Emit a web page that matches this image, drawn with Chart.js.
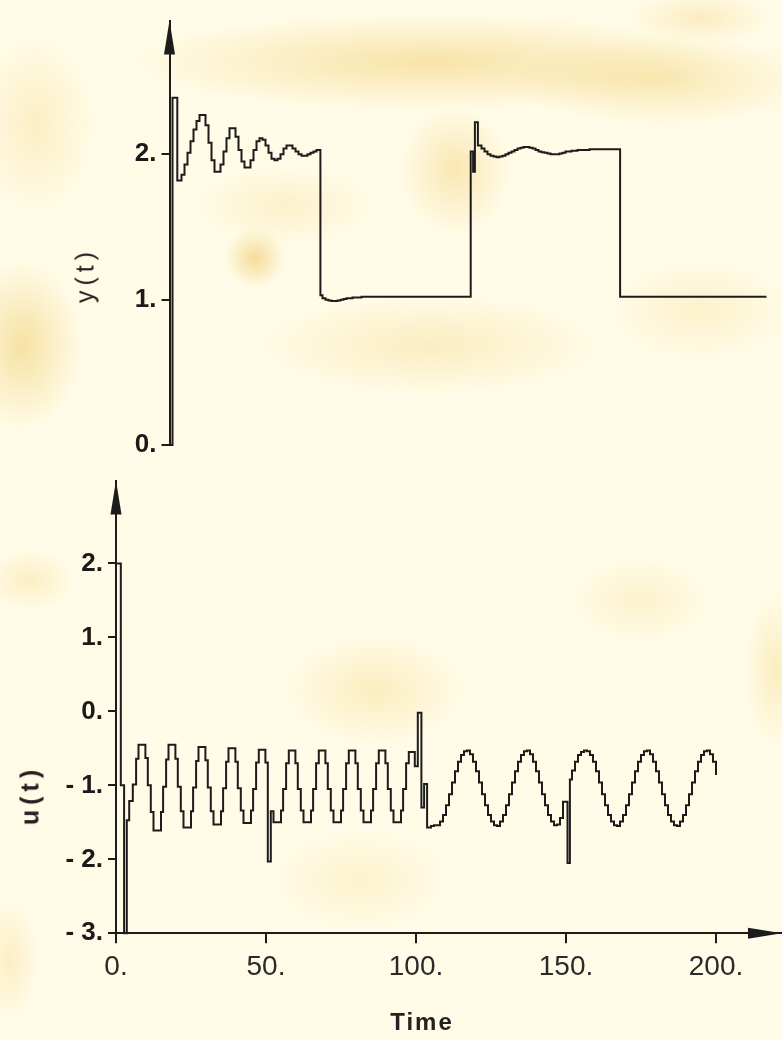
<!DOCTYPE html>
<html><head><meta charset="utf-8">
<script src="https://cdn.jsdelivr.net/npm/chart.js@4.4.1/dist/chart.umd.min.js"></script>
<style>
html,body{margin:0;padding:0;}
body{width:782px;height:1040px;overflow:hidden;position:relative;background:#fffbe6;}
#paper{position:absolute;left:0;top:0;width:782px;height:1040px;
background:
 radial-gradient(ellipse 300px 48px at 430px 62px, rgba(242,204,106,0.50), rgba(242,204,106,0) 100%),
 radial-gradient(ellipse 150px 45px at 660px 80px, rgba(242,206,110,0.42), rgba(242,206,110,0) 100%),
 radial-gradient(ellipse 70px 26px at 700px 18px, rgba(242,206,110,0.32), rgba(242,206,110,0) 100%),
 radial-gradient(ellipse 60px 90px at 35px 125px, rgba(244,212,124,0.32), rgba(244,212,124,0) 100%),
 radial-gradient(circle 30px at 255px 258px, rgba(238,198,100,0.58), rgba(238,198,100,0) 100%),
 radial-gradient(ellipse 60px 85px at 22px 345px, rgba(240,202,104,0.52), rgba(240,202,104,0) 100%),
 radial-gradient(ellipse 170px 50px at 430px 345px, rgba(244,212,126,0.36), rgba(244,212,126,0) 100%),
 radial-gradient(ellipse 55px 65px at 455px 170px, rgba(242,204,108,0.42), rgba(242,204,108,0) 100%),
 radial-gradient(ellipse 90px 40px at 285px 205px, rgba(244,214,132,0.28), rgba(244,214,132,0) 100%),
 radial-gradient(ellipse 90px 50px at 700px 310px, rgba(244,216,132,0.28), rgba(244,216,132,0) 100%),
 radial-gradient(ellipse 90px 55px at 375px 690px, rgba(244,212,122,0.36), rgba(244,212,122,0) 100%),
 radial-gradient(ellipse 70px 40px at 640px 600px, rgba(244,216,132,0.28), rgba(244,216,132,0) 100%),
 radial-gradient(ellipse 30px 75px at 775px 670px, rgba(244,212,122,0.36), rgba(244,212,122,0) 100%),
 radial-gradient(ellipse 90px 50px at 360px 880px, rgba(246,220,140,0.28), rgba(246,220,140,0) 100%),
 radial-gradient(ellipse 45px 30px at 30px 580px, rgba(244,212,122,0.32), rgba(244,212,122,0) 100%),
 radial-gradient(ellipse 28px 60px at 10px 960px, rgba(244,212,122,0.32), rgba(244,212,122,0) 100%),
 #fffbe6;}
canvas{position:absolute;left:0;}
#c1{top:0;}
#c2{top:460px;}
.lbl{position:absolute;font-family:'Liberation Sans',Arial,sans-serif;color:#222;white-space:nowrap;transform:translate(-50%,-50%);}
</style></head>
<body>
<div id="paper"></div>
<canvas id="c1" width="782" height="470"></canvas>
<canvas id="c2" width="782" height="580"></canvas>
<div class="lbl" style="left:85px;top:275px;font-size:25px;letter-spacing:5px;transform:translate(-50%,-50%) rotate(-90deg);">y(t)</div>
<div class="lbl" style="left:30px;top:795px;font-size:25px;font-weight:bold;letter-spacing:5px;transform:translate(-50%,-50%) rotate(-90deg);">u(t)</div>
<div class="lbl" style="left:422px;top:1022px;font-size:24px;font-weight:bold;letter-spacing:2px;">Time</div>
<script>
// ---- data: output y(t) (zero-order hold samples) ----
const yTime = [0, 1, 2.6, 4, 5, 6, 7, 8, 9, 10,
  11, 12, 13, 14, 15, 16, 17, 18, 19, 20,
  21, 22, 23, 24, 25, 26, 27, 28, 29, 30,
  31, 32, 33, 34, 35, 36, 37, 38, 39, 40,
  41, 42, 43, 44, 45, 46, 47, 48, 49, 50.3,
  51, 52, 53, 54, 55, 56, 57, 58, 59, 61,
  64, 100.4, 101.2, 101.8, 102.8, 104, 105, 106, 107, 108,
  109, 110, 111, 112, 113, 114, 115, 116, 117, 118,
  119, 120, 121, 122, 123, 124, 125, 126, 127, 129,
  130, 131, 132, 134, 136, 140, 150.2, 199];
const yValue = [0, 2.39, 1.82, 1.86, 1.93, 2.01, 2.09, 2.17, 2.23, 2.27,
  2.27, 2.20, 2.08, 1.96, 1.88, 1.88, 1.93, 2.02, 2.11, 2.18,
  2.18, 2.12, 2.03, 1.95, 1.91, 1.91, 1.96, 2.03, 2.09, 2.11,
  2.10, 2.06, 2.01, 1.97, 1.96, 1.97, 2.00, 2.04, 2.06, 2.06,
  2.04, 2.02, 2.00, 1.99, 1.99, 2.00, 2.01, 2.02, 2.03, 1.03,
  1.01, 1.00, 0.995, 0.99, 0.99, 0.995, 1.00, 1.005, 1.01, 1.015,
  1.02, 2.02, 1.88, 2.22, 2.06, 2.04, 2.02, 2.00, 1.99, 1.985,
  1.98, 1.985, 1.99, 2.00, 2.01, 2.02, 2.03, 2.04, 2.045, 2.05,
  2.05, 2.045, 2.04, 2.03, 2.02, 2.015, 2.01, 2.005, 2.00, 2.00,
  2.005, 2.01, 2.02, 2.025, 2.03, 2.035, 1.02, 1.02];

// ---- data: control u(t) (zero-order hold samples) ----
const uTime = [0, 1.6, 2.7, 3.6, 4.4, 5.6, 6.7, 7.5,
  9.8, 10.6, 11.6, 12.5, 15.0, 15.7, 16.7, 17.5,
  19.8, 20.6, 21.6, 22.5, 25.0, 25.7, 26.7, 27.5,
  29.8, 30.6, 31.6, 32.5, 35.0, 35.7, 36.7, 37.5,
  39.8, 40.6, 41.6, 42.5, 45.0, 45.7, 46.7, 47.6,
  49.8, 50.6, 51.6, 52.5, 55.0, 55.7, 56.7, 57.6,
  59.8, 60.6, 61.6, 62.5, 65.0, 65.7, 66.7, 67.6,
  69.8, 70.6, 71.6, 72.5, 75.0, 75.7, 76.7, 77.6,
  79.8, 80.6, 81.6, 82.5, 85.0, 85.7, 86.7, 87.6,
  89.8, 90.6, 91.6, 92.5, 95.0, 95.7, 96.7, 97.6,
  99.6, 100.6, 101.8, 102.7, 103.7, 105, 106,
  108, 109, 110, 111, 112, 113, 114, 115, 116, 117,
  118, 119, 120, 121, 122, 123, 124, 125, 126, 127,
  128, 129, 130, 131, 132, 133, 134, 135, 136, 137,
  138, 139, 140, 141, 142, 143, 144, 145, 146, 147,
  148, 149, 150.5, 151.3, 152, 153, 154, 155, 156, 157,
  158, 159, 160, 161, 162, 163, 164, 165, 166, 167,
  168, 169, 170, 171, 172, 173, 174, 175, 176, 177,
  178, 179, 180, 181, 182, 183, 184, 185, 186, 187,
  188, 189, 190, 191, 192, 193, 194, 195, 196, 197,
  198, 199, 200];
const uValue = [2.0, -1.0, -3.0, -1.47, -1.21, -0.99, -0.64, -0.45,
  -0.63, -1.00, -1.36, -1.61, -1.36, -1.02, -0.65, -0.45,
  -0.64, -1.02, -1.35, -1.57, -1.35, -1.03, -0.67, -0.48,
  -0.66, -1.03, -1.35, -1.53, -1.35, -1.04, -0.68, -0.50,
  -0.68, -1.04, -1.34, -1.51, -1.34, -1.05, -0.69, -0.52,
  -0.69, -2.03, -1.35, -1.50, -1.34, -1.05, -0.70, -0.53,
  -0.70, -1.05, -1.34, -1.50, -1.34, -1.05, -0.70, -0.53,
  -0.70, -1.05, -1.34, -1.50, -1.34, -1.05, -0.70, -0.53,
  -0.70, -1.05, -1.34, -1.50, -1.34, -1.05, -0.70, -0.53,
  -0.70, -1.05, -1.34, -1.50, -1.34, -1.05, -0.70, -0.55,
  -0.74, -0.02, -1.30, -0.98, -1.57, -1.55, -1.54,
  -1.49, -1.40, -1.27, -1.12, -0.96, -0.81, -0.68, -0.59, -0.54, -0.53,
  -0.58, -0.68, -0.81, -0.96, -1.12, -1.27, -1.40, -1.49, -1.54, -1.55,
  -1.49, -1.40, -1.27, -1.12, -0.96, -0.81, -0.68, -0.59, -0.54, -0.53,
  -0.58, -0.68, -0.81, -0.96, -1.12, -1.27, -1.40, -1.49, -1.54, -1.53,
  -1.44, -1.22, -2.05, -0.92, -0.80, -0.68, -0.59, -0.55, -0.53, -0.54,
  -0.59, -0.68, -0.81, -0.96, -1.12, -1.27, -1.40, -1.49, -1.54, -1.55,
  -1.49, -1.40, -1.27, -1.12, -0.96, -0.81, -0.68, -0.59, -0.54, -0.53,
  -0.58, -0.68, -0.81, -0.96, -1.12, -1.27, -1.40, -1.49, -1.54, -1.55,
  -1.49, -1.40, -1.27, -1.12, -0.96, -0.81, -0.68, -0.59, -0.54, -0.53,
  -0.58, -0.68, -0.86];

// ---- tick values & labels ----
const yTickValues = [0, 1, 2];
const yTickLabels = ['0.', '1.', '2.'];
const uTickValues = [-3, -2, -1, 0, 1, 2];
const uTickLabels = ['- 3.', '- 2.', '- 1.', '0.', '1.', '2.'];
const timeTickValues = [0, 50, 100, 150, 200];
const timeTickLabels = ['0.', '50.', '100.', '150.', '200.'];

const INK = '#1c1c1c';

const arrowPlugin = {
  id: 'arrows',
  afterDraw(chart, args, opts) {
    const ctx = chart.ctx, a = chart.chartArea;
    ctx.save();
    ctx.fillStyle = INK;
    if (opts.up) {
      const x = a.left;
      ctx.beginPath();
      ctx.moveTo(x, a.top);
      ctx.lineTo(x - 5.5, a.top + 34);
      ctx.lineTo(x + 5.5, a.top + 34);
      ctx.closePath(); ctx.fill();
    }
    if (opts.right) {
      const y = a.bottom;
      ctx.beginPath();
      ctx.moveTo(a.right, y);
      ctx.lineTo(a.right - 34, y - 5.5);
      ctx.lineTo(a.right - 34, y + 5.5);
      ctx.closePath(); ctx.fill();
    }
    ctx.restore();
  }
};

function pts(t, v) { return t.map((x, i) => ({x: x, y: v[i]})); }

Chart.defaults.font.family = "'Liberation Sans', Arial, sans-serif";
Chart.defaults.color = '#222';

// top chart: y(t)
new Chart(document.getElementById('c1'), {
  type: 'line',
  data: { datasets: [{ data: pts(yTime, yValue), stepped: 'before', borderColor: INK, borderWidth: 2,
    pointRadius: 0, fill: false, clip: false }] },
  options: {
    responsive: false, animation: false, devicePixelRatio: 1, events: [],
    layout: { padding: { left: 0, right: 12.5, top: 10, bottom: 25 } },
    plugins: { legend: { display: false }, tooltip: { enabled: false }, arrows: { up: true } },
    scales: {
      x: { type: 'linear', min: 0, max: 200, display: false },
      y: { type: 'linear', min: 0, max: 2.92,
        afterFit: s => { s.width = 169.5; },
        afterBuildTicks: s => { s.ticks = yTickValues.map(v => ({value: v})); },
        ticks: { callback: (v, i) => yTickLabels[i], padding: 5, color: '#1a1a1a',
          font: { size: 26, weight: 'bold' } },
        grid: { drawOnChartArea: false, drawTicks: true, tickLength: 8, color: INK, lineWidth: 2 },
        border: { display: true, color: INK, width: 2 }
      }
    }
  },
  plugins: [arrowPlugin]
});

// bottom chart: u(t)
new Chart(document.getElementById('c2'), {
  type: 'line',
  data: { datasets: [{ data: pts(uTime, uValue), stepped: 'before', borderColor: INK, borderWidth: 2,
    pointRadius: 0, fill: false, clip: false }] },
  options: {
    responsive: false, animation: false, devicePixelRatio: 1, events: [],
    layout: { padding: { left: 0, right: 0, top: 12, bottom: 46.7 } },
    plugins: { legend: { display: false }, tooltip: { enabled: false }, arrows: { up: true, right: true } },
    scales: {
      x: { type: 'linear', min: 0, max: 222,
        afterFit: s => { s.height = 60; },
        afterBuildTicks: s => { s.ticks = timeTickValues.map(v => ({value: v})); },
        ticks: { callback: (v, i) => timeTickLabels[i], padding: 7, color: '#2a2a2a', maxRotation: 0,
          font: { size: 28 } },
        grid: { drawOnChartArea: false, drawTicks: true, tickLength: 10, color: INK, lineWidth: 2 },
        border: { display: true, color: INK, width: 2 }
      },
      y: { type: 'linear', min: -3, max: 3.12,
        afterFit: s => { s.width = 116; },
        afterBuildTicks: s => { s.ticks = uTickValues.map(v => ({value: v})); },
        ticks: { callback: (v, i) => uTickLabels[i], padding: 5, color: '#1a1a1a',
          font: { size: 26, weight: 'bold' } },
        grid: { drawOnChartArea: false, drawTicks: true, tickLength: 8, color: INK, lineWidth: 2 },
        border: { display: true, color: INK, width: 2 }
      }
    }
  },
  plugins: [arrowPlugin]
});
</script>
</body></html>
